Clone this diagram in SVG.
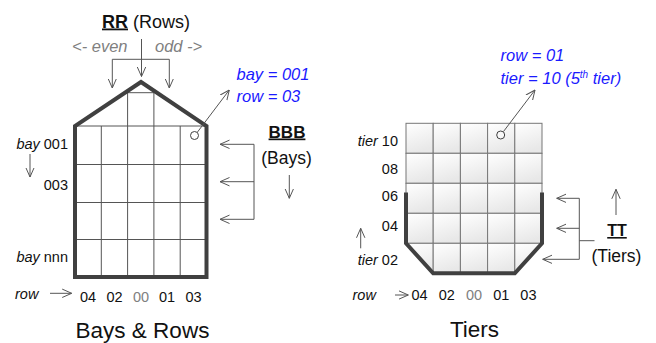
<svg xmlns="http://www.w3.org/2000/svg" width="656" height="343" viewBox="0 0 656 343">
<style>
text{font-family:"Liberation Sans",Arial,sans-serif;fill:#111}
.lbl{font-size:14.5px}
.num{font-size:14.5px;text-anchor:middle}
.it{font-style:italic}
.blue{font-style:italic;fill:#1a1aff;font-size:16.5px}
.gray{fill:#808080}
.title{font-size:22.5px;text-anchor:middle}
.hull{fill:none;stroke:#404040;stroke-width:4;stroke-linejoin:miter}
.grid{stroke:#555;stroke-width:1;fill:none}
.cell{fill:url(#cg);stroke:#777;stroke-width:1}
.con{stroke:#555;stroke-width:1;fill:none}
.arr{stroke:#555;stroke-width:1;fill:none;marker-end:url(#ah)}
</style>
<defs>
<linearGradient id="cg" x1="0" y1="0" x2="0.3" y2="1">
<stop offset="0" stop-color="#ffffff"/>
<stop offset="1" stop-color="#e8e8e8"/>
</linearGradient>
<marker id="ah" viewBox="0 0 10 10" refX="9.5" refY="5" markerWidth="10" markerHeight="10" markerUnits="userSpaceOnUse" orient="auto">
<path d="M0,0.8 L9.5,5 L0,9.2" fill="none" stroke="#555" stroke-width="1"/>
</marker>
</defs>

<g id="bays-rows">
<g id="bays-grid">
<path class="grid" d="M75,126 H206.5 M127.6,92.7 H153.9 M75,164.5 H206.5 M75,202.5 H206.5 M75,239.5 H206.5 M101.3,126 V277 M127.6,92.7 V277 M153.9,92.7 V277 M180.2,126 V277"/>
<path class="hull" d="M75,277 V126 L141,82 L206.5,126 V277 Z"/>
<circle cx="194.5" cy="135.5" r="4" fill="#fff" stroke="#404040" stroke-width="1"/>
</g>
<g id="rr-label">
<text x="102" y="27.5" font-size="18px"><tspan font-weight="bold" text-decoration="underline">RR</tspan> (Rows)</text>
<text x="72" y="51.5" class="it gray" font-size="16.5px">&lt;- even</text>
<text x="155" y="51.5" class="it gray" font-size="16.5px">odd -&gt;</text>
</g>
<g id="bbb-label">
<text x="287" y="137.5" font-size="17px" font-weight="bold" text-anchor="middle" text-decoration="underline">BBB</text>
<text x="286.5" y="163.5" font-size="17.5px" text-anchor="middle">(Bays)</text>
</g>
<g id="bay-note">
<text x="236.5" y="80" class="blue">bay = 001</text>
<text x="236.5" y="101.5" class="blue">row = 03</text>
</g>
<g id="bay-labels">
<text x="68" y="148.5" class="lbl" text-anchor="end"><tspan class="it">bay</tspan> 001</text>
<text x="68" y="189.5" class="lbl" text-anchor="end">003</text>
<text x="68" y="261.5" class="lbl" text-anchor="end"><tspan class="it">bay</tspan> nnn</text>
</g>
<g id="row-labels-left">
<text x="15" y="298.5" class="lbl it">row</text>
<text x="88" y="302" class="num">04</text>
<text x="114.5" y="302" class="num">02</text>
<text x="141" y="302" class="num gray">00</text>
<text x="167" y="302" class="num">01</text>
<text x="193.5" y="302" class="num">03</text>
</g>
<text id="title-left" x="142.5" y="338" class="title">Bays &amp; Rows</text>
</g>

<g id="tiers">
<g id="tiers-grid">
<rect class="cell" x="406" y="123.3" width="27.2" height="30"/>
<rect class="cell" x="433.2" y="123.3" width="27.2" height="30"/>
<rect class="cell" x="460.4" y="123.3" width="27.2" height="30"/>
<rect class="cell" x="487.6" y="123.3" width="27.2" height="30"/>
<rect class="cell" x="514.8" y="123.3" width="27.2" height="30"/>
<rect class="cell" x="406" y="153.3" width="27.2" height="30"/>
<rect class="cell" x="433.2" y="153.3" width="27.2" height="30"/>
<rect class="cell" x="460.4" y="153.3" width="27.2" height="30"/>
<rect class="cell" x="487.6" y="153.3" width="27.2" height="30"/>
<rect class="cell" x="514.8" y="153.3" width="27.2" height="30"/>
<rect class="cell" x="406" y="183.3" width="27.2" height="30"/>
<rect class="cell" x="433.2" y="183.3" width="27.2" height="30"/>
<rect class="cell" x="460.4" y="183.3" width="27.2" height="30"/>
<rect class="cell" x="487.6" y="183.3" width="27.2" height="30"/>
<rect class="cell" x="514.8" y="183.3" width="27.2" height="30"/>
<rect class="cell" x="406" y="213.3" width="27.2" height="30"/>
<rect class="cell" x="433.2" y="213.3" width="27.2" height="30"/>
<rect class="cell" x="460.4" y="213.3" width="27.2" height="30"/>
<rect class="cell" x="487.6" y="213.3" width="27.2" height="30"/>
<rect class="cell" x="514.8" y="213.3" width="27.2" height="30"/>
<polygon class="cell" points="406,243.3 433.2,243.3 433.2,273.3"/>
<rect class="cell" x="433.2" y="243.3" width="27.2" height="30"/>
<rect class="cell" x="460.4" y="243.3" width="27.2" height="30"/>
<rect class="cell" x="487.6" y="243.3" width="27.2" height="30"/>
<polygon class="cell" points="514.8,243.3 542,243.3 514.8,273.3"/>
<path class="hull" d="M406,192.5 V243.3 L433.2,273.3 H514.8 L542,243.3 V192.5"/>
<circle cx="500.7" cy="135" r="4" fill="#f8f8f8" stroke="#404040" stroke-width="1"/>
</g>
<g id="tier-note">
<text x="500.5" y="61" class="blue">row = 01</text>
<text x="500.5" y="83.5" class="blue">tier = 10 (5<tspan font-size="10px" dy="-6">th</tspan><tspan dy="6"> tier)</tspan></text>
</g>
<g id="tt-label">
<text x="617" y="236" font-size="16px" font-weight="bold" text-anchor="middle" text-decoration="underline">TT</text>
<text x="616.5" y="261.5" font-size="17.5px" text-anchor="middle">(Tiers)</text>
</g>
<g id="tier-labels">
<text x="398" y="145.5" class="lbl" text-anchor="end"><tspan class="it">tier</tspan> 10</text>
<text x="398" y="173.5" class="lbl" text-anchor="end">08</text>
<text x="398" y="201" class="lbl" text-anchor="end">06</text>
<text x="398" y="231" class="lbl" text-anchor="end">04</text>
<text x="398" y="264.5" class="lbl" text-anchor="end"><tspan class="it">tier</tspan> 02</text>
</g>
<g id="row-labels-right">
<text x="352.5" y="300" class="lbl it">row</text>
<text x="419.6" y="300" class="num">04</text>
<text x="446.8" y="300" class="num">02</text>
<text x="474" y="300" class="num gray">00</text>
<text x="501.2" y="300" class="num">01</text>
<text x="528.4" y="300" class="num">03</text>
</g>
<text id="title-right" x="474.5" y="336.5" class="title">Tiers</text>
</g>

<g id="connectors">
<line class="con" x1="112.3" y1="59.3" x2="169.3" y2="59.3"/>
<line class="arr" x1="112.3" y1="59.3" x2="112.3" y2="88"/>
<line class="arr" x1="169.3" y1="59.3" x2="169.3" y2="88"/>
<line class="arr" x1="141.5" y1="39" x2="141.5" y2="76.5"/>
<line class="arr" x1="197.5" y1="132" x2="229.3" y2="90"/>
<line class="con" x1="254" y1="144.3" x2="254" y2="219.3"/>
<line class="arr" x1="254" y1="144.3" x2="220" y2="144.3"/>
<line class="arr" x1="254" y1="181.7" x2="220" y2="181.7"/>
<line class="arr" x1="254" y1="219.3" x2="220" y2="219.3"/>
<line class="arr" x1="289.3" y1="175" x2="289.3" y2="198.3"/>
<line class="arr" x1="30" y1="154" x2="30" y2="177"/>
<line class="arr" x1="50" y1="293.3" x2="71.7" y2="293.3"/>
<line class="arr" x1="503.5" y1="131.5" x2="535" y2="90"/>
<line class="con" x1="579.3" y1="198.3" x2="579.3" y2="259.3"/>
<line class="con" x1="579.3" y1="240.7" x2="594.5" y2="240.7"/>
<line class="arr" x1="579.3" y1="198.3" x2="556.7" y2="198.3"/>
<line class="arr" x1="579.3" y1="228.3" x2="556.7" y2="228.3"/>
<line class="arr" x1="579.3" y1="259.3" x2="542.7" y2="259.3"/>
<line class="arr" x1="616" y1="215" x2="616" y2="189.3"/>
<line class="arr" x1="360.7" y1="248.3" x2="360.7" y2="228.3"/>
<line class="arr" x1="395" y1="295" x2="408.3" y2="295"/>
</g>
</svg>
